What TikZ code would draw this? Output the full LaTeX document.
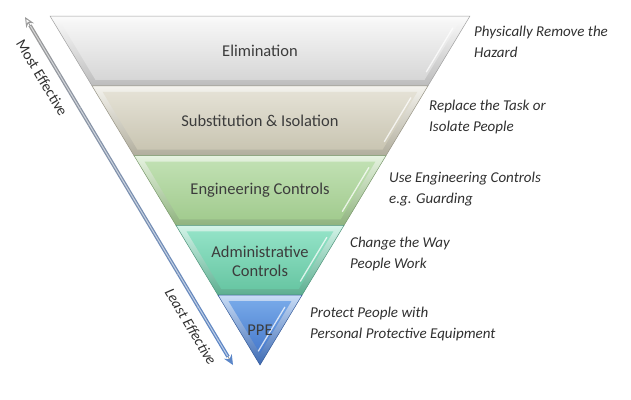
\documentclass[tikz,border=0pt]{standalone}
\usepackage{fontspec}
\setmainfont{Carlito}
\usetikzlibrary{arrows.meta,calc}
\definecolor{elA}{HTML}{F6F6F6}
\definecolor{elB}{HTML}{D6D6D6}
\definecolor{suA}{HTML}{E4E1D5}
\definecolor{suB}{HTML}{C9C5B2}
\definecolor{enA}{HTML}{C0E0B2}
\definecolor{enB}{HTML}{A2CB8F}
\definecolor{adA}{HTML}{92E2C6}
\definecolor{adB}{HTML}{68C6A3}
\definecolor{ppA}{HTML}{76A8E8}
\definecolor{ppB}{HTML}{4679CC}
\definecolor{lvltxt}{HTML}{3C3C3C}
\definecolor{notetxt}{HTML}{303030}
\definecolor{arrgray}{HTML}{9A9A9A}
\definecolor{arrblue}{HTML}{5B86C8}
\tikzset{
  lvl/.style   ={font=\fontsize{16.5}{19}\selectfont,text=lvltxt,align=center,inner sep=1pt},
  note/.style  ={font=\fontsize{15}{21}\selectfont\itshape,text=notetxt,align=left,
                 anchor=north west,inner sep=0pt},
  eff/.style   ={font=\fontsize{15}{17}\selectfont,text=notetxt,sloped,inner sep=1pt},
  effarrow/.style={{Stealth[open,fill=white,length=10pt,width=9pt,line width=1pt,color=arrgray]}-{Stealth[length=10pt,width=9pt,color=arrblue]},
                 line width=1pt,arrgray},
}
\begin{document}
\begin{tikzpicture}[x=1pt,y=-1pt]
  \useasboundingbox (0,0) rectangle (631,399);
  % funnel bands, top to bottom
  \foreach \i/\ca/\cb in {0/elA/elB,1/suA/suB,2/enA/enB,3/adA/adB,4/ppA/ppB}{
    \pgfmathsetmacro\yt{16+69.8*\i}
    \pgfmathsetmacro\yb{16+69.8*(\i+1)}
    \pgfmathsetmacro\wt{210-42*\i}
    \pgfmathsetmacro\wb{210-42*(\i+1)}
    \shade[top color=\ca!40!white,bottom color=\cb!88!black,draw=\cb!75!black,line width=.5pt]
      (260-\wt,\yt) -- (260+\wt,\yt) -- (260+\wb,\yb) -- (260-\wb,\yb) -- cycle;
    \ifnum\i=4
      \shade[top color=\ca,bottom color=\cb]
        (260-\wt+10.6,\yt+6) -- (260+\wt-10.6,\yt+6) -- (260,\yb-11.6) -- cycle;
    \else
      \shade[top color=\ca,bottom color=\cb]
        (260-\wt+10.6,\yt+6) -- (260+\wt-10.6,\yt+6) -- (260+\wb-3.4,\yb-6) -- (260-\wb+3.4,\yb-6) -- cycle;
    \fi
    \draw[white,opacity=.75,line width=1.3pt,line cap=round]
      (260+\wt-17.2,\yt+12) -- (260+\wt-43.6,\yb-14);
  }
  % effectiveness arrow
  \coordinate (mtop) at (25,17);
  \coordinate (mbot) at (233,365);
  \draw[effarrow] (mtop) -- (mbot);
  \foreach \k in {0,...,19}{
    \pgfmathtruncatemacro\p{100-5*\k}
    \draw[line width=3.6pt,arrgray!\p!arrblue]
      ($(mtop)!{0.024+0.952*\k/20}!(mbot)$) -- ($(mtop)!{0.024+0.952*(\k+1)/20}!(mbot)$);
  }
  \draw[white,opacity=.6,line width=1pt] ($(mtop)!.026!(mbot)$) -- ($(mtop)!.974!(mbot)$);
  \path (mtop) -- (mbot)
    node[eff,pos=.15,below=10pt] (most) {Most Effective}
    node[eff,pos=.865,below=10pt,font=\fontsize{15}{17}\selectfont\itshape] (least) {Least Effective};
  % level names
  \node[lvl] (elim)  at (260,51)  {Elimination};
  \node[lvl] (subst) at (260,121) {Substitution \& Isolation};
  \node[lvl] (engc)  at (260,190) {Engineering Controls};
  \node[lvl] (admc)  at (260,261) {Administrative\\Controls};
  \node[lvl] (ppe)   at (260,330) {PPE};
  % descriptions
  \node[note] (nelim)  at (474,26)  {Physically Remove the\\Hazard};
  \node[note] (nsubst) at (429,100) {Replace the Task or\\Isolate People};
  \node[note] (nengc)  at (389,172) {Use Engineering Controls\\e.g. Guarding};
  \node[note] (nadmc)  at (350,237) {Change the Way\\People Work};
  \node[note] (nppe)   at (310,307) {Protect People with\\Personal Protective Equipment};
\end{tikzpicture}
\end{document}
